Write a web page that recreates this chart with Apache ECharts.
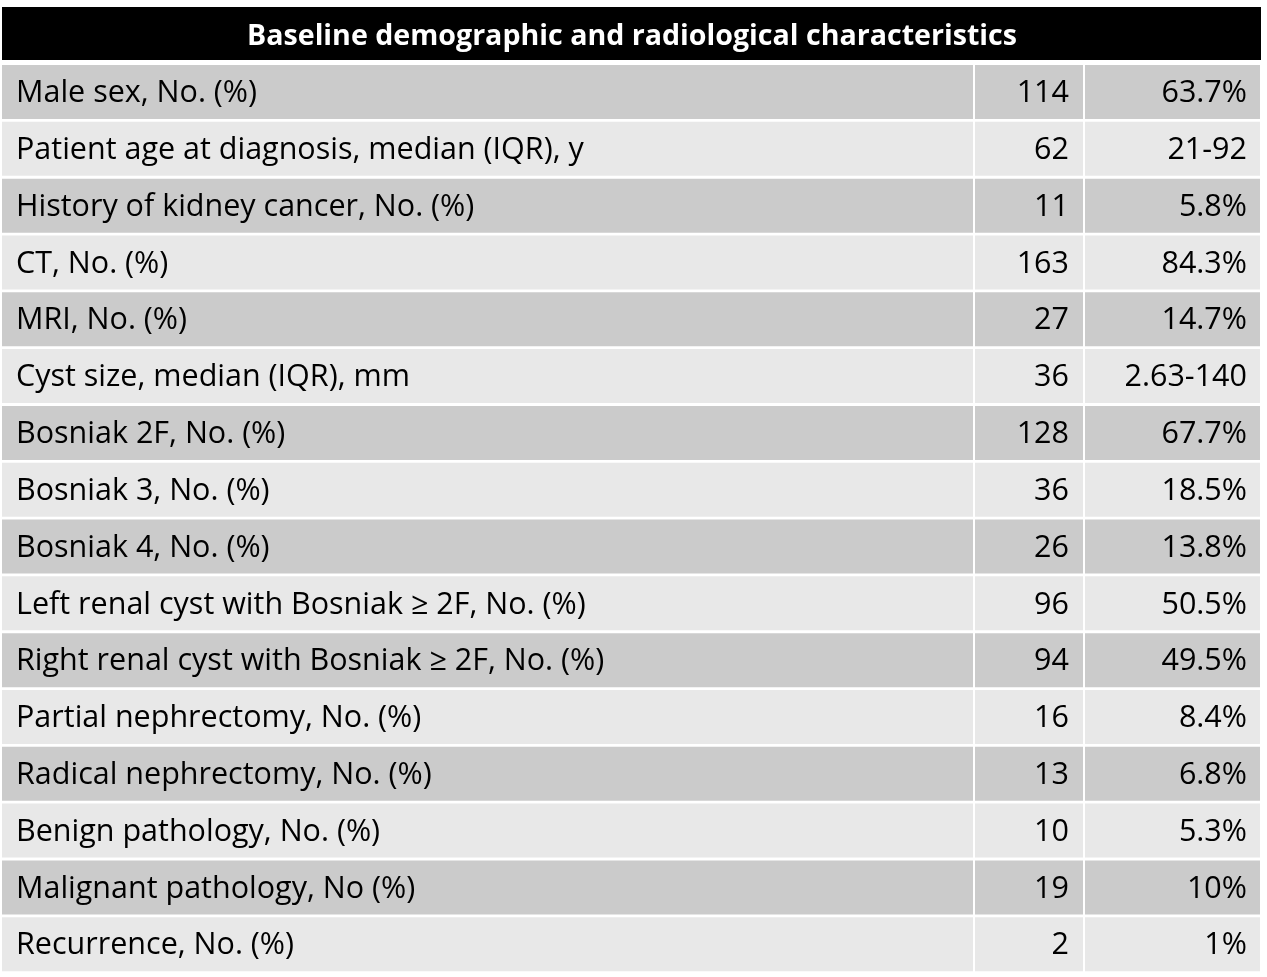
<!DOCTYPE html>
<html>
<head>
<meta charset="utf-8">
<style>
  html, body { margin: 0; padding: 0; background: #fff; }
  #main { width: 1267px; height: 977px; }
</style>
<script src="https://cdn.jsdelivr.net/npm/echarts@6/dist/echarts.min.js"></script>
</head>
<body>
<div id="main"></div>
<script>
var title = 'Baseline demographic and radiological characteristics';

var labels = [
    'Male sex, No. (%)',
    'Patient age at diagnosis, median (IQR), y',
    'History of kidney cancer, No. (%)',
    'CT, No. (%)',
    'MRI, No. (%)',
    'Cyst size, median (IQR), mm',
    'Bosniak 2F, No. (%)',
    'Bosniak 3, No. (%)',
    'Bosniak 4, No. (%)',
    'Left renal cyst with Bosniak \u2265 2F, No. (%)',
    'Right renal cyst with Bosniak \u2265 2F, No. (%)',
    'Partial nephrectomy, No. (%)',
    'Radical nephrectomy, No. (%)',
    'Benign pathology, No. (%)',
    'Malignant pathology, No (%)',
    'Recurrence, No. (%)'
];
var counts = ['114', '62', '11', '163', '27', '36', '128', '36', '26', '96', '94', '16', '13', '10', '19', '2'];
var shares = ['63.7%', '21-92', '5.8%', '84.3%', '14.7%', '2.63-140', '67.7%', '18.5%', '13.8%',
    '50.5%', '49.5%', '8.4%', '6.8%', '5.3%', '10%', '1%'];

// column edges in x-axis units (pixels inside the grid)
var colEdges = [0, 971, 973, 1081, 1083, 1258];
var rowColors = ['#cbcbcb', '#e8e8e8'];
var font = '"Open Sans", Lato, sans-serif';

var chart = echarts.init(document.getElementById('main'));

function renderRow(params, api) {
    var idx = api.value(0);
    var top = api.coord([0, idx])[1] - api.size([0, 1])[1] / 2;
    var h = api.size([0, 1])[1];
    var y0 = top + 1;
    var y1 = top + h - 1.8;
    var mid = (y0 + y1) / 2 + 1.5;
    var fill = rowColors[idx % 2];
    var children = [];
    for (var c = 0; c < 3; c++) {
        var xa = api.coord([colEdges[c * 2], idx])[0];
        var xb = api.coord([colEdges[c * 2 + 1], idx])[0];
        children.push({
            type: 'rect',
            shape: { x: xa, y: y0, width: xb - xa, height: y1 - y0 },
            style: { fill: fill }
        });
    }
    var x1 = api.coord([colEdges[0], idx])[0];
    var x2 = api.coord([colEdges[3], idx])[0];
    var x3 = api.coord([colEdges[5], idx])[0];
    var txt = { fill: '#000', fontSize: 30.5, fontFamily: font, verticalAlign: 'middle' };
    children.push({
        type: 'text',
        style: Object.assign({ text: labels[idx], x: x1 + 14, y: mid, align: 'left' }, txt)
    });
    children.push({
        type: 'text',
        style: Object.assign({ text: counts[idx], x: x2 - 14, y: mid, align: 'right' }, txt)
    });
    children.push({
        type: 'text',
        style: Object.assign({ text: shares[idx], x: x3 - 13, y: mid, align: 'right' }, txt)
    });
    return { type: 'group', children: children };
}

chart.setOption({
    backgroundColor: '#fff',
    animation: false,
    graphic: [{
        type: 'rect',
        shape: { x: 2, y: 7, width: 1259, height: 53 },
        style: { fill: '#000' }
    }, {
        type: 'text',
        x: 632,
        y: 36.5,
        style: {
            text: title,
            fill: '#fff',
            fontSize: 28.6,
            fontWeight: 'bold',
            fontFamily: font,
            align: 'center',
            verticalAlign: 'middle'
        }
    }],
    grid: { left: 2, right: 7, top: 64, bottom: 4 },
    xAxis: { type: 'value', min: 0, max: 1258, show: false },
    yAxis: {
        type: 'category',
        data: labels,
        inverse: true,
        show: false
    },
    series: [{
        type: 'custom',
        renderItem: renderRow,
        encode: { x: -1, y: 0 },
        data: labels.map(function (l, i) { return [i]; })
    }]
});
</script>
</body>
</html>
